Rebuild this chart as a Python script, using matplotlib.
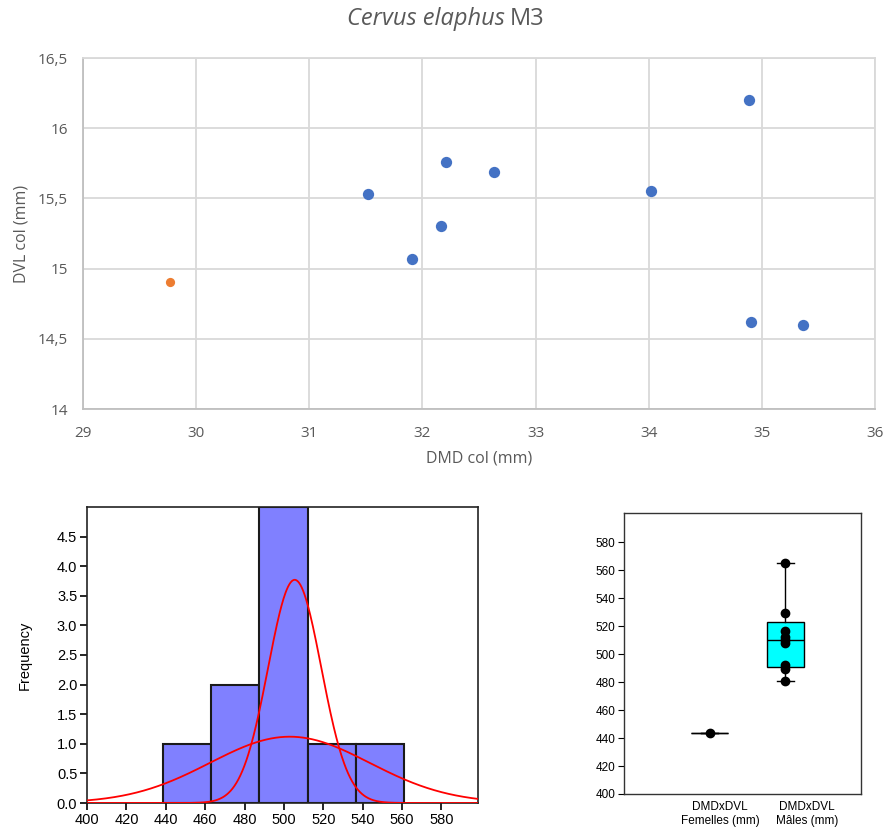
import numpy as np
import matplotlib
matplotlib.use('Agg')
import matplotlib.pyplot as plt
from matplotlib.ticker import FuncFormatter, MultipleLocator

# scatter data (DMD col, DVL col)
dmd_males = [31.52, 31.91, 32.16, 32.21, 32.63, 34.02, 34.89, 34.90, 35.36]
dvl_males = [15.53, 15.07, 15.30, 15.76, 15.69, 15.55, 16.20, 14.62, 14.60]
dmd_females = [29.77]
dvl_females = [14.905]

# DMDxDVL products for the boxplot
prod_females = [443.7]
prod_males = [565.2, 529.0, 516.3, 512.0, 510.2, 507.6, 492.0, 489.5, 480.9]

# histogram bins / counts as drawn
hist_edges = [438.8, 463.0, 487.5, 512.2, 536.6, 560.9]
hist_counts = [1, 2, 5, 1, 1]

# fitted normal curves: (mean, sd, peak height)
curve_narrow = (505.5, 13.5, 3.77)
curve_wide = (503.0, 40.5, 1.12)

box_labels = ['DMDxDVL\nFemelles (mm)', 'DMDxDVL\nM\u00e2les (mm)']

W, H = 884, 830
fig = plt.figure(figsize=(W / 100, H / 100), dpi=100)

def frac(left, top, right, bottom):
    return [left / W, 1 - bottom / H, (right - left) / W, (bottom - top) / H]

# ---------------- scatter (Excel style) ----------------
grey_txt = '#595959'
ax = fig.add_axes(frac(83, 58, 875, 409))
ax.scatter(dmd_males, dvl_males, s=66, color='#4472C4', zorder=3, linewidths=0)
ax.scatter(dmd_females, dvl_females, s=44, color='#ED7D31', zorder=3, linewidths=0)
ax.set_xlim(29, 36)
ax.set_ylim(14, 16.5)
ax.xaxis.set_major_locator(MultipleLocator(1))
ax.yaxis.set_major_locator(MultipleLocator(0.5))

def comma_fmt(v, pos):
    s = ('%.1f' % v).rstrip('0').rstrip('.')
    return s.replace('.', ',')

ax.xaxis.set_major_formatter(FuncFormatter(comma_fmt))
ax.yaxis.set_major_formatter(FuncFormatter(comma_fmt))
ax.grid(True, color='#d9d9d9', linewidth=1.3)
ax.set_axisbelow(True)
for name, sp in ax.spines.items():
    sp.set_color('#bfbfbf' if name in ('left', 'bottom') else '#d9d9d9')
    sp.set_linewidth(1.3)
ax.tick_params(axis='y', length=0, labelsize=11, labelcolor=grey_txt, pad=11)
ax.tick_params(axis='x', length=0, labelsize=11, labelcolor=grey_txt, pad=12)
for lab in ax.get_xticklabels() + ax.get_yticklabels():
    lab.set_family('Open Sans')
ax.set_xlabel('DMD col (mm)', fontsize=11.5, color=grey_txt, family='Open Sans', labelpad=7)
ax.set_ylabel('DVL col (mm)', fontsize=11.5, color=grey_txt, family='Open Sans', labelpad=6)

fig.text(505 / W, 1 - 19 / H, 'Cervus elaphus', ha='right', va='center',
         fontsize=17, style='italic', color=grey_txt, family='Open Sans')
fig.text(510 / W, 1 - 19 / H, 'M3', ha='left', va='center',
         fontsize=17, color=grey_txt, family='Open Sans')

# ---------------- histogram ----------------
ah = fig.add_axes(frac(87, 507, 478, 803))
widths = np.diff(hist_edges)
ah.bar(hist_edges[:-1], hist_counts, width=widths, align='edge',
       color='#8080FF', edgecolor='#1a1a1a', linewidth=1.5, zorder=2)
xs = np.linspace(400, 598.6, 600)
for mu, sd, pk in (curve_narrow, curve_wide):
    ah.plot(xs, pk * np.exp(-0.5 * ((xs - mu) / sd) ** 2), color='#FF0000', lw=1.3, zorder=3)
ah.set_xlim(400, 598.6)
ah.set_ylim(0, 5.0)
ah.set_xticks(np.arange(400, 581, 20))
ah.set_yticks(np.arange(0, 4.6, 0.5))
ah.yaxis.set_major_formatter(FuncFormatter(lambda v, p: '%.1f' % v))
for sp in ah.spines.values():
    sp.set_color('#222222')
    sp.set_linewidth(1.2)
ah.tick_params(direction='out', length=5, width=1.2, labelsize=10.5, pad=2)
for lab in ah.get_xticklabels() + ah.get_yticklabels():
    lab.set_family('Liberation Sans')
ah.set_ylabel('Frequency', fontsize=10.5, family='Liberation Sans', labelpad=18)

# ---------------- boxplot ----------------
ab = fig.add_axes(frac(624, 513, 861, 794))
stats = []
for vals in (prod_females, prod_males):
    v = np.array(vals)
    q1, med, q3 = np.percentile(v, [25, 50, 75], method='weibull') if len(v) > 1 else (v[0], v[0], v[0])
    iqr = q3 - q1
    lo = v[v >= q1 - 1.5 * iqr].min()
    hi = v[v <= q3 + 1.5 * iqr].max()
    stats.append(dict(med=med, q1=q1, q3=q3, whislo=lo, whishi=hi, fliers=[]))
positions = [1, 2]
ab.bxp(stats, positions=positions, widths=0.49, patch_artist=True, showfliers=False,
       boxprops=dict(facecolor='#00FFFF', edgecolor='black', linewidth=1),
       medianprops=dict(color='black', linewidth=1),
       whiskerprops=dict(color='black', linewidth=1),
       capprops=dict(color='black', linewidth=1), capwidths=0.22)
for pos, vals in zip(positions, (prod_females, prod_males)):
    ab.plot([pos] * len(vals), vals, 'o', color='black', markersize=6, zorder=4)
ab.set_xlim(-0.13, 3.0)
ab.set_ylim(400, 600.8)
ab.set_yticks(np.arange(400, 581, 20))
ab.set_xticks([1.14, 2.29])
ab.set_xticklabels(box_labels)
ab.tick_params(axis='x', length=0, labelsize=8.5, pad=5)
ab.tick_params(axis='y', direction='out', length=4, width=0.8, labelsize=8.5, pad=2)
for lab in ab.get_xticklabels() + ab.get_yticklabels():
    lab.set_family('Liberation Sans')
for sp in ab.spines.values():
    sp.set_color('#333333')
    sp.set_linewidth(1)

fig.savefig('out.png', dpi=100)
